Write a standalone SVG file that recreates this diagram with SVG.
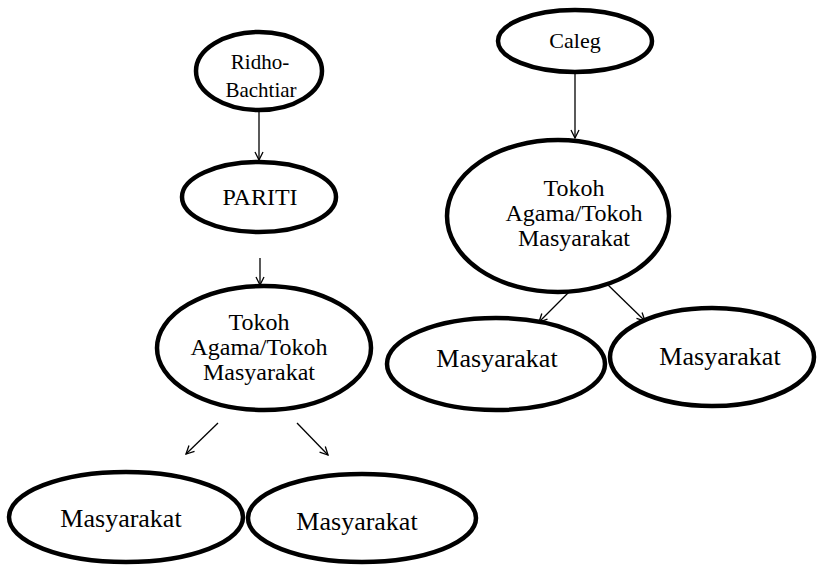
<svg xmlns="http://www.w3.org/2000/svg" width="822" height="565" viewBox="0 0 822 565">
<style>
.n{fill:#fff;stroke:#000;stroke-width:4.5}
.t{font-family:"Liberation Serif","Times New Roman",serif;fill:#000;text-anchor:middle}
.c line{stroke:#000;stroke-width:1.3;marker-end:url(#a)}
</style>
<defs>
<marker id="a" viewBox="0 0 10 10" refX="9" refY="5" markerWidth="10" markerHeight="10" markerUnits="userSpaceOnUse" orient="auto">
<path d="M1,1 L9,5 L1,9" fill="none" stroke="#000" stroke-width="1.3"/>
</marker>
</defs>
<rect width="822" height="565" fill="#fff"/>
<g class="c" id="connectors">
<line x1="259" y1="112" x2="259" y2="160"/>
<line x1="260" y1="258" x2="260" y2="285"/>
<line x1="218" y1="423" x2="186" y2="454"/>
<line x1="297" y1="423" x2="328" y2="455"/>
<line x1="575" y1="74" x2="575" y2="138"/>
<line x1="576" y1="285" x2="539" y2="322"/>
<line x1="606" y1="283" x2="645" y2="321"/>
</g>
<g id="ridho"><ellipse class="n" cx="259" cy="71" rx="63" ry="39"/>
<text class="t" font-size="21" x="260" y="69">Ridho-</text><text class="t" font-size="21" x="261" y="97">Bachtiar</text></g>
<g id="pariti"><ellipse class="n" cx="259" cy="197" rx="77" ry="35"/>
<text class="t" font-size="24" x="260" y="205">PARITI</text></g>
<g id="tokoh1"><ellipse class="n" cx="264" cy="348" rx="107" ry="62"/>
<text class="t" font-size="24" x="259" y="330">Tokoh</text><text class="t" font-size="24" x="259" y="355">Agama/Tokoh</text><text class="t" font-size="24" x="259" y="380">Masyarakat</text></g>
<g id="masy1"><ellipse class="n" cx="126" cy="517" rx="117" ry="45"/>
<text class="t" font-size="26" x="121" y="527">Masyarakat</text></g>
<g id="masy2"><ellipse class="n" cx="362" cy="518" rx="114" ry="44"/>
<text class="t" font-size="26" x="357" y="530">Masyarakat</text></g>
<g id="caleg"><ellipse class="n" cx="575" cy="41" rx="77" ry="31"/>
<text class="t" font-size="22" x="575" y="48">Caleg</text></g>
<g id="tokoh2"><ellipse class="n" cx="558" cy="216" rx="111" ry="76"/>
<text class="t" font-size="24" x="574" y="196">Tokoh</text><text class="t" font-size="24" x="574" y="221">Agama/Tokoh</text><text class="t" font-size="24" x="574" y="246">Masyarakat</text></g>
<g id="masy3"><ellipse class="n" cx="496" cy="364" rx="109" ry="46"/>
<text class="t" font-size="26" x="497" y="367">Masyarakat</text></g>
<g id="masy4"><ellipse class="n" cx="712" cy="357" rx="102" ry="49"/>
<text class="t" font-size="26" x="720" y="365">Masyarakat</text></g>
</svg>
